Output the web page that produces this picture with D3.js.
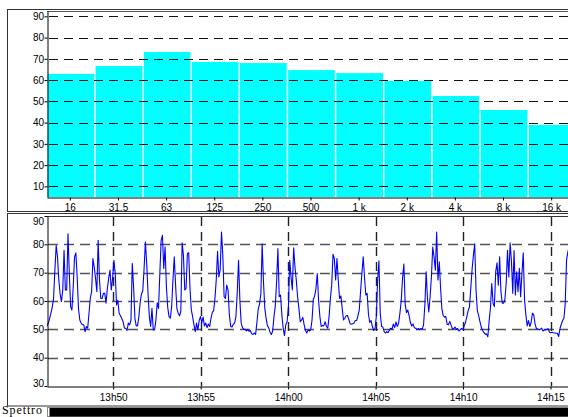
<!DOCTYPE html>
<html><head><meta charset="utf-8">
<script src="https://cdn.jsdelivr.net/npm/d3@7"></script>
<style>
body{margin:0;background:#fff;overflow:hidden}
svg{display:block}
text{font-family:"Liberation Sans",Arial,Helvetica,sans-serif;font-size:10px;fill:#000}
</style>
</head><body>
<svg id="c" width="568" height="417"></svg>
<script>
// ---- Spectrum (top panel) ----
const bandLabels = ["16","31.5","63","125","250","500","1 k","2 k","4 k","8 k","16 k"];
const bandLevels = [62.9, 66.6, 73.2, 68.5, 68.0, 64.7, 63.3, 59.6, 52.5, 45.9, 38.9];
const spectrumTicks = [10,20,30,40,50,60,70,80,90];

// ---- Time history (bottom panel) ----
const startTime = "13:46:13";
const endTime = "14:16:24";
const sampleSeconds = 4.5;
const levels = [
51.2,52.2,53.9,55.7,57.8,60.9,70.9,79.6,75.6,67.4,
62.5,59.8,63.9,77.9,63.9,63.9,83.7,69.7,58.0,56.8,
65.0,75.6,77.0,68.5,57.4,53.3,52.2,51.6,51.6,49.2,
51.0,50.4,55.7,60.9,63.3,75.0,72.0,68.0,63.3,81.4,
67.4,60.9,60.9,62.7,62.7,59.2,64.4,68.0,70.9,63.9,
68.0,74.4,69.7,58.6,60.2,55.7,54.8,53.8,52.7,50.4,
50.4,49.6,52.2,51.6,53.3,73.2,65.0,53.9,51.2,51.2,
54.5,59.4,62.5,63.6,71.5,80.8,73.2,62.7,54.5,51.0,
57.4,
49.8,49.8,53.3,59.4,57.4,69.7,81.4,83.2,71.5,79.1,
65.0,57.8,54.5,53.9,58.0,67.4,75.6,65.6,57.4,55.7,
54.8,56.3,80.5,76.0,63.9,64.4,76.7,77.0,64.4,56.8,
54.5,51.6,49.2,52.2,49.8,53.1,54.5,52.4,54.3,51.2,
52.2,50.6,51.9,51.0,53.9,56.0,56.6,60.9,67.4,77.5,
68.5,70.9,84.3,76.1,61.5,60.9,65.6,63.9,55.1,51.0,
50.8,51.8,52.2,54.5,63.0,74.4,60.4,52.2,50.6,50.0,
50.0,49.4,50.0,49.3,49.6,48.4,48.2,48.7,48.2,52.5,
57.1,59.0,62.5,80.2,66.8,57.4,53.9,51.3,50.5,49.0,
48.2,49.4,54.5,58.2,66.8,78.5,61.5,62.1,55.1,50.4,
47.8,51.6,52.7,57.8,74.4,68.5,63.9,78.8,72.0,67.4,
61.5,57.4,52.7,53.3,54.2,51.6,49.6,48.7,49.8,49.4,
49.8,53.3,60.6,61.8,64.4,69.7,60.2,54.5,51.0,51.3,
51.3,52.7,51.0,50.4,54.5,60.9,65.6,76.5,75.0,67.4,
75.0,67.4,60.9,61.8,57.4,53.3,53.9,54.8,54.9,53.6,
52.0,51.8,52.0,52.2,53.1,53.1,54.8,56.8,63.3,69.7,
75.6,68.5,62.1,62.7,55.4,52.4,53.1,51.0,49.6,50.3,
54.5,67.4,74.2,55.7,51.0,50.8,49.2,48.7,49.2,48.8,
49.8,50.4,50.1,51.9,50.6,52.6,51.0,52.2,55.7,60.2,
68.0,73.0,58.9,55.9,56.8,54.8,52.4,51.2,51.9,50.6,
50.4,49.9,50.3,49.9,50.3,50.1,51.5,58.6,70.3,60.9,
56.1,61.5,68.5,79.0,75.6,70.9,84.3,67.4,73.8,64.4,
57.1,54.8,54.3,54.5,51.8,51.6,52.8,51.5,50.2,50.2,
50.8,50.0,50.3,49.4,49.9,50.3,49.9,51.2,52.5,54.5,
56.6,57.9,64.4,71.1,76.1,80.2,63.9,56.6,54.8,52.7,
50.8,49.6,48.9,48.3,48.4,47.4,53.0,57.6,66.2,59.2,
58.0,70.3,73.5,65.6,75.6,63.3,59.2,59.2,60.6,66.2,
77.9,68.5,80.5,74.0,62.7,77.8,62.1,70.3,63.3,71.5,
61.5,69.7,77.0,60.4,55.1,51.2,53.1,51.0,52.4,55.7,
55.1,51.9,50.3,50.2,49.8,50.0,50.4,49.4,49.8,49.8,
50.0,50.2,49.0,48.8,49.0,48.8,48.7,48.6,48.6,47.5,
50.3,51.8,53.1,53.9,59.2,74.4,77.3,79.1
];
const levelTicks = [30,40,50,60,70,80,90];
const levelGrid = [40,50,60,70,80];
const timeTicks = ["13:50:00","13:55:00","14:00:00","14:05:00","14:10:00","14:15:00"];
const stripLabel = "Spettro";

const svg = d3.select("#c");

// ---------- frames ----------
svg.append("rect").attr("x",7.5).attr("y",9.5).attr("width",620).attr("height",202)
  .attr("fill","none").attr("stroke","#333").attr("stroke-width",1);
svg.append("rect").attr("x",7.5).attr("y",213.5).attr("width",620).attr("height",192.5)
  .attr("fill","none").attr("stroke","#333").attr("stroke-width",1);

// ---------- top panel ----------
const x1 = d3.scaleBand().domain(bandLabels).range([47,575]).paddingInner(0.03).paddingOuter(0);
const y1 = d3.scaleLinear().domain([5,92.5]).range([197,11]);

const gTop = svg.append("g");
gTop.selectAll("rect.bar").data(bandLabels).join("rect")
  .attr("class","bar")
  .attr("x",d=>x1(d)+0.5)
  .attr("y",(d,i)=>y1(bandLevels[i]))
  .attr("width",x1.bandwidth())
  .attr("height",(d,i)=>y1(5)-y1(bandLevels[i]))
  .attr("fill","#00ffff");

gTop.selectAll("line.grid").data(spectrumTicks).join("line")
  .attr("class","grid")
  .attr("x1",49).attr("x2",575)
  .attr("y1",d=>Math.round(y1(d))+0.5).attr("y2",d=>Math.round(y1(d))+0.5)
  .attr("stroke","#111").attr("stroke-width",1.2).attr("stroke-dasharray","9,6");

gTop.append("line").attr("x1",47).attr("x2",575).attr("y1",11.5).attr("y2",11.5)
  .attr("stroke","#555").attr("stroke-width",1);

const ax1 = gTop.append("g").attr("transform","translate(47.5,0)")
  .call(d3.axisLeft(y1).tickValues(spectrumTicks).tickSize(3).tickSizeOuter(0).tickPadding(0.5));
const bx1 = gTop.append("g").attr("transform","translate(0,197.5)")
  .call(d3.axisBottom(x1).tickSize(3).tickSizeOuter(0).tickPadding(3));
[ax1,bx1].forEach(g=>{
  g.selectAll("text").style("font-family","Liberation Sans, Arial, sans-serif").style("font-size","10px");
  g.selectAll("path,line").attr("stroke","#000");
});

// ---------- bottom panel ----------
const parse = d3.timeParse("%H:%M:%S");
const t0 = parse(startTime);
const x2 = d3.scaleTime().domain([t0, parse(endTime)]).range([47,575]);
const y2 = d3.scaleLinear().domain([30,90]).range([386,216]);
const series = levels.map((v,i)=>({t:new Date(t0.getTime()+i*sampleSeconds*1000), v}));

const gBot = svg.append("g");
gBot.append("clipPath").attr("id","clip2").append("rect")
  .attr("x",47).attr("y",216).attr("width",528).attr("height",170);

gBot.selectAll("line.hgrid").data(levelGrid).join("line")
  .attr("class","hgrid")
  .attr("x1",48).attr("x2",575)
  .attr("y1",d=>Math.round(y2(d))+0.5).attr("y2",d=>Math.round(y2(d))+0.5)
  .attr("stroke","#555").attr("stroke-width",1.6).attr("stroke-dasharray","10,6");
gBot.selectAll("line.vgrid").data(timeTicks).join("line")
  .attr("class","vgrid")
  .attr("x1",d=>Math.round(x2(parse(d)))+0.5).attr("x2",d=>Math.round(x2(parse(d)))+0.5)
  .attr("y1",217).attr("y2",386)
  .attr("stroke","#222").attr("stroke-width",1.4).attr("stroke-dasharray","9,6");

gBot.append("path").datum(series)
  .attr("clip-path","url(#clip2)")
  .attr("fill","none").attr("stroke","#0000ff").attr("stroke-width",1.1)
  .attr("stroke-linejoin","round")
  .attr("d",d3.line().x(d=>x2(d.t)).y(d=>y2(d.v)));

gBot.append("line").attr("x1",47).attr("x2",575).attr("y1",216.5).attr("y2",216.5)
  .attr("stroke","#333").attr("stroke-width",1);

const ax2 = gBot.append("g").attr("transform","translate(47.5,0)")
  .call(d3.axisLeft(y2).tickValues(levelTicks).tickSize(3).tickSizeOuter(0).tickPadding(0.5));
ax2.selectAll(".tick text").attr("dy",d=> d===90 ? "0.85em" : (d===30 ? "0.05em" : "0.32em"));
const bx2 = gBot.append("g").attr("transform","translate(0,386.5)")
  .call(d3.axisBottom(x2).tickValues(timeTicks.map(parse)).tickFormat(d3.timeFormat("%Hh%M"))
    .tickSize(3).tickSizeOuter(0).tickPadding(4));
[ax2,bx2].forEach(g=>{
  g.selectAll("text").style("font-family","Liberation Sans, Arial, sans-serif").style("font-size","10px");
  g.selectAll("path,line").attr("stroke","#000");
});

// ---------- bottom strip ----------
svg.append("text").attr("x",2).attr("y",414)
  .attr("textLength",40).attr("lengthAdjust","spacing")
  .style("font-family","Liberation Serif, Times New Roman, serif").style("font-size","12px")
  .text(stripLabel);
svg.append("rect").attr("x",47.5).attr("y",407.5).attr("width",540).attr("height",9)
  .attr("fill","#fff").attr("stroke","#888");
svg.append("rect").attr("x",49.5).attr("y",408).attr("width",540).attr("height",8.5)
  .attr("fill","#000");
</script>
</body></html>
